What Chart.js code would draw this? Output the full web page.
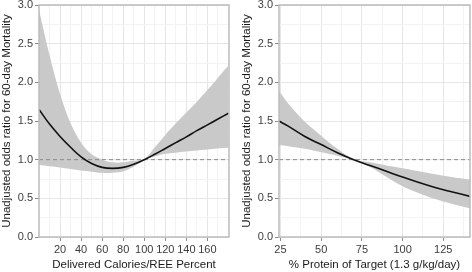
<!DOCTYPE html>
<html>
<head>
<meta charset="utf-8">
<script src="https://cdn.jsdelivr.net/npm/chart.js@4/dist/chart.umd.min.js"></script>
<style>
body { margin: 0; background: #fff; }
.wrap { display: flex; width: 472px; height: 272px; }
canvas { display: block; }
</style>
</head>
<body>
<div class="wrap">
  <canvas id="left_chart" width="236" height="272"></canvas>
  <canvas id="right_chart" width="236" height="272"></canvas>
</div>
<script>
// left panel: delivered calories / REE percent
var calX  = [0, 10, 20, 30, 40, 50, 60, 70, 80, 90, 100, 110, 120, 130, 140, 150, 160, 170, 180];
var calOR = [1.65, 1.46, 1.30, 1.16, 1.035, 0.95, 0.9, 0.888, 0.9, 0.94, 1.0, 1.07, 1.145, 1.22, 1.295, 1.375, 1.45, 1.525, 1.60];
var calLo = [0.93, 0.915, 0.90, 0.88, 0.86, 0.845, 0.83, 0.83, 0.85, 0.91, 0.995, 1.04, 1.075, 1.09, 1.105, 1.12, 1.132, 1.145, 1.155];
var calHi = [2.94, 2.35, 1.85, 1.47, 1.22, 1.07, 1.0, 0.965, 0.965, 0.985, 1.005, 1.16, 1.32, 1.47, 1.61, 1.75, 1.90, 2.06, 2.22];
var calTicks = [10, 20, 30, 40, 50, 60, 70, 80, 90, 100, 110, 120, 130, 140, 150, 160, 170];
var calLabels = [20, 40, 60, 80, 100, 120, 140, 160];

// right panel: % protein of target
var protX  = [24, 30, 40, 50, 60, 70, 80, 90, 100, 110, 120, 130, 141.5];
var protOR = [1.50, 1.43, 1.30, 1.195, 1.09, 1.0, 0.925, 0.85, 0.775, 0.705, 0.64, 0.585, 0.525];
var protLo = [1.19, 1.175, 1.14, 1.095, 1.05, 0.995, 0.905, 0.78, 0.655, 0.565, 0.49, 0.43, 0.37];
var protHi = [1.89, 1.72, 1.49, 1.31, 1.14, 1.005, 0.965, 0.925, 0.89, 0.85, 0.81, 0.775, 0.74];
var protTicks = [25, 37.5, 50, 62.5, 75, 87.5, 100, 112.5, 125, 137.5];
var protLabels = [25, 50, 75, 100, 125];

var yTicks = [0, 0.25, 0.5, 0.75, 1, 1.25, 1.5, 1.75, 2, 2.25, 2.5, 2.75, 3];
var yLabels = [0, 0.5, 1, 1.5, 2, 2.5, 3];
var refLine = 1.0;
var yTitle = "Unadjusted odds ratio for 60-day Mortality";

var font = "'Liberation Sans', Arial, Helvetica, sans-serif";

var panelBorder = {
    id: 'panelBorder',
    afterDraw: function(chart) {
        var a = chart.chartArea, ctx = chart.ctx;
        ctx.save();
        ctx.strokeStyle = '#bcbcbc';
        ctx.lineWidth = 1.5;
        ctx.strokeRect(a.left, a.top, a.right - a.left, a.bottom - a.top);
        ctx.restore();
    }
};

function pts(xs, ys) {
    return xs.map(function(x, i) { return {x: x, y: ys[i]}; });
}

function isMajor(list, v) {
    return list.some(function(m) { return Math.abs(m - v) < 1e-6; });
}

function draw_panel(id, xs, mid, lo, hi, xMin, xMax, xTicks, xLabels, xTitle, yWidth, padRight, yTitlePad) {
    var el = document.getElementById(id);
    return new Chart(el, {
        type: 'scatter',
        data: {
            datasets: [
                {data: pts(xs, lo), showLine: true, borderWidth: 0, pointRadius: 0,
                 tension: 0.35, fill: false, order: 3},
                {data: pts(xs, hi), showLine: true, borderWidth: 0, pointRadius: 0,
                 tension: 0.35, fill: {target: 0}, backgroundColor: '#c9c9c9', order: 3},
                {data: [{x: xMin, y: refLine}, {x: xMax, y: refLine}], showLine: true, borderColor: '#8a8a8a',
                 borderWidth: 1, borderDash: [4, 3], pointRadius: 0, order: 1},
                {data: pts(xs, mid), showLine: true, borderColor: '#111', borderWidth: 1.6, pointRadius: 0,
                 tension: 0.4, order: 0}
            ]
        },
        options: {
            responsive: false,
            animation: false,
            layout: {padding: {top: 5, right: padRight, left: 0, bottom: 0}},
            plugins: {legend: {display: false}, tooltip: {enabled: false}},
            scales: {
                x: {
                    type: 'linear', min: xMin, max: xMax,
                    afterBuildTicks: function(s) { s.ticks = xTicks.map(function(v) { return {value: v}; }); },
                    afterFit: function(s) { s.height = 35; s.paddingLeft = 0; s.paddingRight = 0; },
                    border: {display: false},
                    grid: {
                        color: function(c) { return isMajor(xLabels, c.tick.value) ? '#e6e6e6' : '#f3f3f3'; },
                        tickColor: function(c) { return isMajor(xLabels, c.tick.value) ? '#8a8a8a' : 'rgba(0,0,0,0)'; },
                        tickLength: 4
                    },
                    ticks: {
                        autoSkip: false, maxRotation: 0, padding: 2, color: '#3c3c3c',
                        font: {family: font, size: 11},
                        callback: function(v) { return isMajor(xLabels, v) ? String(v) : ''; }
                    },
                    title: {display: true, text: xTitle, color: '#1a1a1a', padding: {top: 0, bottom: 0},
                            font: {family: font, size: 11.5}}
                },
                y: {
                    type: 'linear', min: 0, max: 3,
                    afterBuildTicks: function(s) { s.ticks = yTicks.map(function(v) { return {value: v}; }); },
                    afterFit: function(s) { s.width = yWidth; s.paddingTop = 0; s.paddingBottom = 0; },
                    border: {display: false},
                    grid: {
                        color: function(c) { return isMajor(yLabels, c.tick.value) ? '#e6e6e6' : '#f3f3f3'; },
                        tickColor: function(c) { return isMajor(yLabels, c.tick.value) ? '#8a8a8a' : 'rgba(0,0,0,0)'; },
                        tickLength: 4
                    },
                    ticks: {
                        autoSkip: false, padding: 2, color: '#3c3c3c',
                        font: {family: font, size: 11},
                        callback: function(v) { return isMajor(yLabels, v) ? v.toFixed(1) : ''; }
                    },
                    title: {display: true, text: yTitle, color: '#1a1a1a', padding: {top: yTitlePad, bottom: 0},
                            font: {family: font, size: 11.5}}
                }
            }
        },
        plugins: [panelBorder]
    });
}

draw_panel('left_chart', calX, calOR, calLo, calHi, 0, 180.5, calTicks, calLabels,
           'Delivered Calories/REE Percent', 39, 7, 0);
draw_panel('right_chart', protX, protOR, protLo, protHi, 24.1, 141.4, protTicks, protLabels,
           '% Protein of Target (1.3 g/kg/day)', 43, 2, 4);
</script>
</body>
</html>
